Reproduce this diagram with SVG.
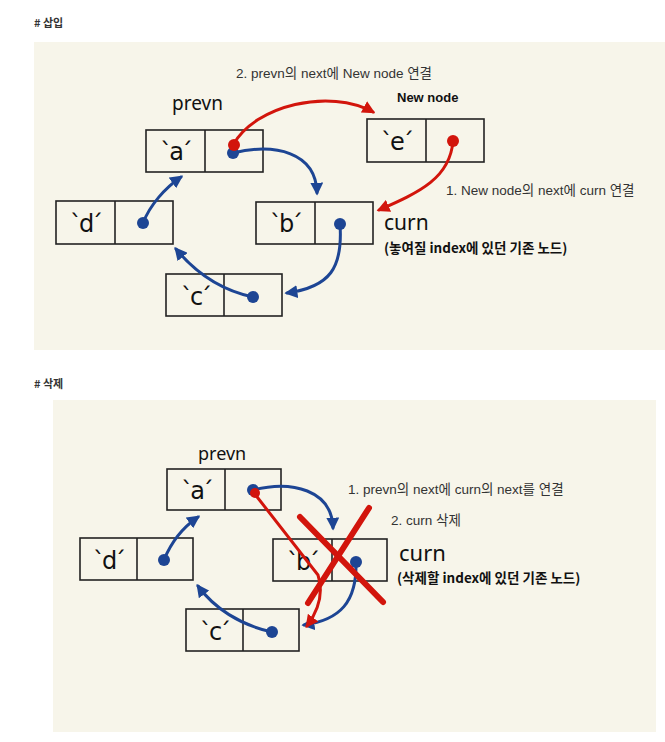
<svg xmlns="http://www.w3.org/2000/svg" width="665" height="742" viewBox="0 0 665 742">
<style>
.hdr{font-family:"Noto Sans CJK KR","Noto Sans",sans-serif;font-size:11px;font-weight:bold;fill:#333}
.panel{fill:#f7f5ea}
.box{fill:none;stroke:#222;stroke-width:1.6}
.lbl{font-family:"DejaVu Sans",sans-serif;font-size:24px;fill:#111;text-anchor:middle;letter-spacing:-3px}
.note{font-family:"Liberation Sans","Noto Sans CJK KR",sans-serif;font-size:13.5px;fill:#333}
.hand{font-family:"Noto Sans","Noto Sans CJK KR",sans-serif;fill:#111}
.handk{font-family:"Noto Sans CJK KR",sans-serif;fill:#111;font-weight:bold}
.blue{fill:none;stroke:#1d4594;stroke-width:3;stroke-linecap:round}
.red{fill:none;stroke:#d2150c;stroke-width:3;stroke-linecap:round}
.bdot{fill:#1d4594}
.rdot{fill:#d2150c}
.x{fill:none;stroke:#d2150c;stroke-width:6;stroke-linecap:round}
</style>
<defs>
<marker id="ab" viewBox="0 0 10 10" refX="8" refY="5" markerWidth="13" markerHeight="13" markerUnits="userSpaceOnUse" orient="auto"><path d="M0,0 L10,5 L0,10 z" fill="#1d4594"/></marker>
<marker id="ar" viewBox="0 0 10 10" refX="8" refY="5" markerWidth="13" markerHeight="13" markerUnits="userSpaceOnUse" orient="auto"><path d="M0,0 L10,5 L0,10 z" fill="#d2150c"/></marker>
</defs>
<rect width="665" height="742" fill="#ffffff"/>
<text class="hdr" x="34" y="27"># 삽입</text>
<rect class="panel" x="34" y="42" width="631" height="308"/>
<text class="hdr" x="34" y="388"># 삭제</text>
<rect class="panel" x="53" y="400" width="603" height="332"/>

<g id="top-texts">
<text class="note" x="236" y="78">2. prevn의 next에 New node 연결</text>
<text class="note" x="446" y="195">1. New node의 next에 curn 연결</text>
<text x="397" y="102" font-family="Liberation Sans,sans-serif" font-size="13" font-weight="bold" fill="#111">New node</text>
<text class="hand" x="172" y="110" font-size="19">prevn</text>
<text class="hand" x="384" y="230" font-size="21">curn</text>
<text class="handk" x="384" y="253" font-size="13.5">(놓여질 index에 있던 기존 노드)</text>
</g>

<g id="top-node-a"><rect class="box" x="146" y="130" width="117" height="42"/><line class="box" x1="205" y1="130" x2="205" y2="172"/><text class="lbl" x="175" y="160">`a´</text></g>
<g id="top-node-e"><rect class="box" x="367" y="119" width="117" height="43"/><line class="box" x1="426" y1="119" x2="426" y2="162"/><text class="lbl" x="396" y="150">`e´</text></g>
<g id="top-node-b"><rect class="box" x="256" y="202" width="117" height="42"/><line class="box" x1="315" y1="202" x2="315" y2="244"/><text class="lbl" x="285" y="232">`b´</text></g>
<g id="top-node-d"><rect class="box" x="56" y="201" width="117" height="43"/><line class="box" x1="115" y1="201" x2="115" y2="244"/><text class="lbl" x="85" y="232">`d´</text></g>
<g id="top-node-c"><rect class="box" x="166" y="274" width="116" height="42"/><line class="box" x1="224" y1="274" x2="224" y2="316"/><text class="lbl" x="195" y="305">`c´</text></g>

<g id="top-connectors">
<path class="red" d="M233,145 C255,105 330,88 373,112" marker-end="url(#ar)"/>
<path class="blue" d="M233,153 C275,143 316,152 317,193" marker-end="url(#ab)"/>
<path class="red" d="M453,141 C450,178 420,192 379,210" marker-end="url(#ar)"/>
<path class="blue" d="M143,223 C150,205 165,188 181,177" marker-end="url(#ab)"/>
<path class="blue" d="M340,224 C343,268 330,287 287,293" marker-end="url(#ab)"/>
<path class="blue" d="M253,297 C220,290 195,272 176,249" marker-end="url(#ab)"/>
<circle class="bdot" cx="233" cy="153" r="6"/>
<circle class="rdot" cx="234" cy="145" r="6"/>
<circle class="rdot" cx="453" cy="141" r="6"/>
<circle class="bdot" cx="143" cy="223" r="6"/>
<circle class="bdot" cx="340" cy="224" r="6"/>
<circle class="bdot" cx="253" cy="297" r="6"/>
</g>

<g id="bottom-texts">
<text class="note" x="348" y="494">1. prevn의 next에 curn의 next를 연결</text>
<text class="note" x="391" y="525">2. curn 삭제</text>
<text class="hand" x="198" y="460" font-size="18">prevn</text>
<text class="hand" x="399" y="561" font-size="22">curn</text>
<text class="handk" x="397" y="583" font-size="13.5">(삭제할 index에 있던 기존 노드)</text>
</g>

<g id="bottom-node-a"><rect class="box" x="167" y="469" width="114" height="41"/><line class="box" x1="225" y1="469" x2="225" y2="510"/><text class="lbl" x="196" y="499">`a´</text></g>
<g id="bottom-node-b"><rect class="box" x="273" y="539" width="114" height="42"/><line class="box" x1="332" y1="539" x2="332" y2="581"/><text class="lbl" x="302" y="570">`b´</text></g>
<g id="bottom-node-d"><rect class="box" x="80" y="538" width="113" height="42"/><line class="box" x1="137" y1="538" x2="137" y2="580"/><text class="lbl" x="108" y="569">`d´</text></g>
<g id="bottom-node-c"><rect class="box" x="186" y="609" width="113" height="42"/><line class="box" x1="243" y1="609" x2="243" y2="651"/><text class="lbl" x="214" y="640">`c´</text></g>

<g id="bottom-connectors">
<path class="blue" d="M253,490 C292,480 332,490 333,528" marker-end="url(#ab)"/>
<path class="blue" d="M164,560 C172,540 185,526 198,517" marker-end="url(#ab)"/>
<path class="blue" d="M356,562 C357,602 340,620 304,625" marker-end="url(#ab)"/>
<path class="blue" d="M272,632 C240,625 214,608 198,586" marker-end="url(#ab)"/>
<path class="red" d="M254,493 L318,575 Q326,600 307,626" marker-end="url(#ar)"/>
<circle class="bdot" cx="253" cy="490" r="6"/>
<circle class="rdot" cx="255" cy="493" r="5"/>
<circle class="bdot" cx="164" cy="560" r="6"/>
<circle class="bdot" cx="356" cy="562" r="6"/>
<circle class="bdot" cx="272" cy="632" r="6"/>
<path class="x" d="M300,517 L383,602"/>
<path class="x" d="M369,508 L308,603"/>
</g>
</svg>
